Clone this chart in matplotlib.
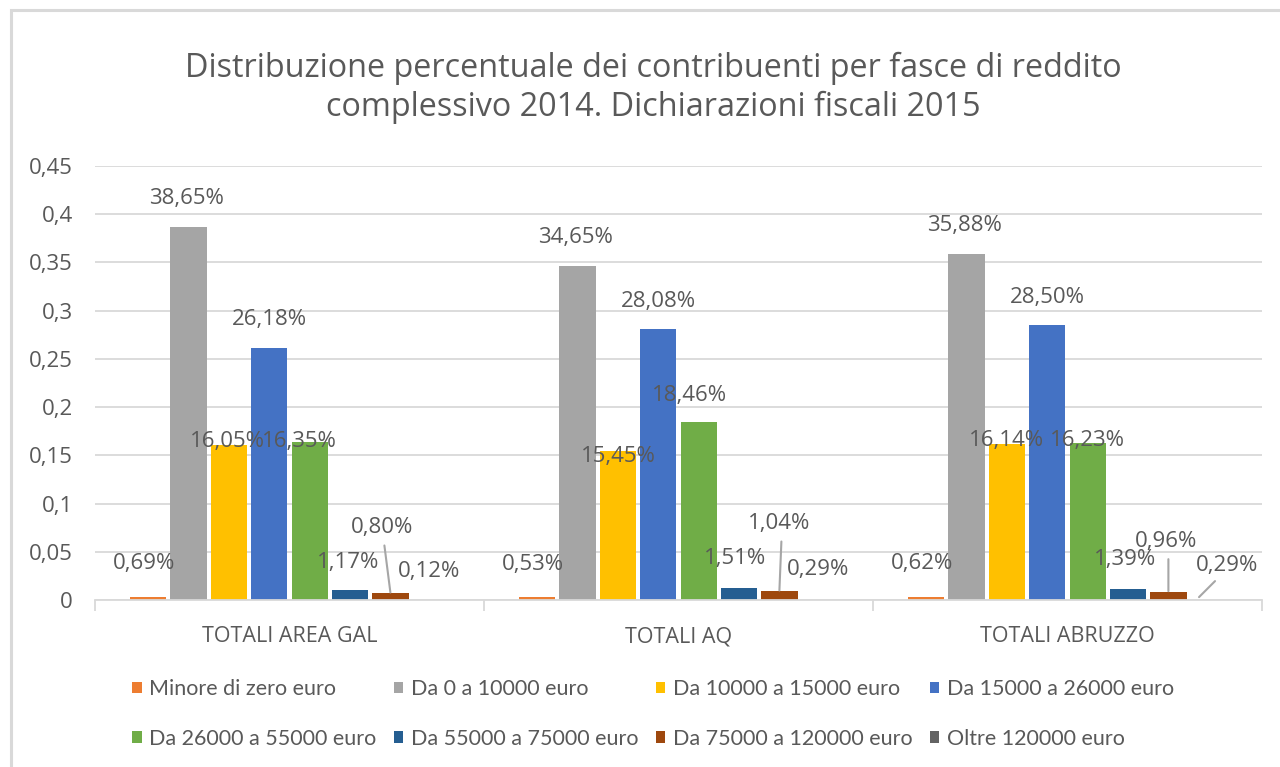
import matplotlib
matplotlib.use("Agg")
import matplotlib.pyplot as plt
from matplotlib.patches import Rectangle
import numpy as np

categories = ["TOTALI AREA GAL", "TOTALI AQ", "TOTALI ABRUZZO"]
series_names = ["Minore di zero euro", "Da 0 a 10000 euro", "Da 10000 a 15000 euro",
                "Da 15000 a 26000 euro", "Da 26000 a 55000 euro", "Da 55000 a 75000 euro",
                "Da 75000 a 120000 euro", "Oltre 120000 euro"]
minore = [0.0069, 0.0053, 0.0062]
da0_10 = [0.3865, 0.3465, 0.3588]
da10_15 = [0.1605, 0.1545, 0.1614]
da15_26 = [0.2618, 0.2808, 0.2850]
da26_55 = [0.1635, 0.1846, 0.1623]
da55_75 = [0.0117, 0.0151, 0.0139]
da75_120 = [0.0080, 0.0104, 0.0096]
oltre120 = [0.0012, 0.0029, 0.0029]
series_values = [minore, da0_10, da10_15, da15_26, da26_55, da55_75, da75_120, oltre120]
yticks = [0, 0.05, 0.1, 0.15, 0.2, 0.25, 0.3, 0.35, 0.4, 0.45]
ytick_labels = ["0", "0,05", "0,1", "0,15", "0,2", "0,25", "0,3", "0,35", "0,4", "0,45"]

colors = ["#ED7D31", "#A5A5A5", "#FFC000", "#4472C4", "#70AD47", "#255E91", "#9E480E", "#636363"]
# the drawn heights of the tiny bars in the source are smaller than their labels
draw_scale = [0.5, 1, 1, 1, 1, 0.85, 0.85, 0.0]

# label offsets in pixels (dx, dy) relative to bar top-centre; leader (True/False)
label_offsets = {
    (0, 0): (-4, 33, False), (0, 1): (-2, 29, False), (0, 2): (-2, 4, False), (0, 3): (0, 28, False),
    (0, 4): (-10, 1, False), (0, 5): (-2, 28, False), (0, 6): (-8, 66, True), (0, 7): (-2, 29, False),
    (1, 0): (-4, 33, False), (1, 1): (-2, 28, False), (1, 2): (0, -6, False), (1, 3): (0, 28, False),
    (1, 4): (-9, 26, False), (1, 5): (-4, 29, False), (1, 6): (0, 68, True), (1, 7): (-2, 31, False),
    (2, 0): (-4, 34, False), (2, 1): (-2, 28, False), (2, 2): (0, 4, False), (2, 3): (0, 28, False),
    (2, 4): (0, 3, False), (2, 5): (-3, 29, False), (2, 6): (-2, 51, True), (2, 7): (18, 34, True),
}

TXT = "#595959"
FONT = "Open Sans"
fig = plt.figure(figsize=(12.8, 7.67), dpi=100)
W, H = 1280, 767

# chart border
fig.patches.append(Rectangle((11 / W, -0.1), 1.2, 1 - 10 / H + 0.1, transform=fig.transFigure,
                             fill=False, edgecolor="#D9D9D9", linewidth=2.2, zorder=0))

ax = fig.add_axes([95 / W, 1 - 600 / H, (1262 - 95) / W, (600 - 166) / H])
n = len(series_names)
x = np.arange(len(categories))
slot = 0.83 / n
for i, (name, vals) in enumerate(zip(series_names, series_values)):
    pos = x - 0.415 + slot * (i + 0.5)
    hts = [v * draw_scale[i] for v in vals]
    ax.bar(pos, hts, width=slot * 0.9, color=colors[i], label=name, zorder=3, linewidth=0)
    for j, (p, h, v) in enumerate(zip(pos, hts, vals)):
        dx, dy, leader = label_offsets[(j, i)]
        lab = f"{v * 100:.2f}%".replace(".", ",")
        ax.annotate(lab, (p, h), xytext=(dx, dy), textcoords="offset pixels",
                    ha="center", va="center", fontsize=16, color=TXT, family=FONT, zorder=5)
        if leader:
            if (j, i) == (2, 7):
                ax.annotate("", (p - 0.025, h + 0.003), xytext=(dx - 2, dy - 18), textcoords="offset pixels",
                            arrowprops=dict(arrowstyle="-", color="#A6A6A6", lw=1.5, shrinkA=0, shrinkB=0))
            else:
                ax.annotate("", (p, h + 0.001), xytext=(dx + 2, dy - 19), textcoords="offset pixels",
                            arrowprops=dict(arrowstyle="-", color="#A6A6A6", lw=1.5, shrinkA=0, shrinkB=0))

ax.set_ylim(0, 0.45)
ax.set_xlim(-0.5, len(categories) - 0.5)
ax.set_yticks(yticks)
ax.set_yticklabels(ytick_labels, fontsize=16, color=TXT, family=FONT)
ax.tick_params(axis="y", length=0, pad=16)
ax.set_xticks(x)
ax.set_xticklabels(categories, fontsize=15.5, color=TXT, family=FONT)
ax.tick_params(axis="x", length=0, pad=19)
ax.set_xticks(np.arange(len(categories) + 1) - 0.5, minor=True)
ax.tick_params(axis="x", which="minor", length=8, width=1.3, color="#D9D9D9", direction="out")
ax.grid(axis="y", color="#D9D9D9", linewidth=1.3, zorder=0)
for s in ["top", "right", "left"]:
    ax.spines[s].set_visible(False)
ax.spines["bottom"].set_color("#D9D9D9")
ax.spines["bottom"].set_linewidth(1.3)
ax.spines["bottom"].set_zorder(4)

fig.text(653 / W, 1 - 88 / H, "Distribuzione percentuale dei contribuenti per fasce di reddito\ncomplessivo 2014. Dichiarazioni fiscali 2015",
         ha="center", va="center", fontsize=23.3, color=TXT, family=FONT, linespacing=1.23)

# legend: reorder so that matplotlib's column-major fill gives row-major order
handles, labels = ax.get_legend_handles_labels()
order = [0, 4, 1, 5, 2, 6, 3, 7]
leg = fig.legend([handles[k] for k in order], [labels[k] for k in order], ncol=4,
                 loc="center", bbox_to_anchor=(653 / W, 1 - 714 / H), frameon=False,
                 prop={"family": "Lato", "size": 15.5}, handlelength=0.45, handleheight=0.45,
                 handletextpad=0.35, columnspacing=0.8, labelspacing=1.38)
for t in leg.get_texts():
    t.set_color(TXT)

fig.savefig("out.png", dpi=100, facecolor="white")
